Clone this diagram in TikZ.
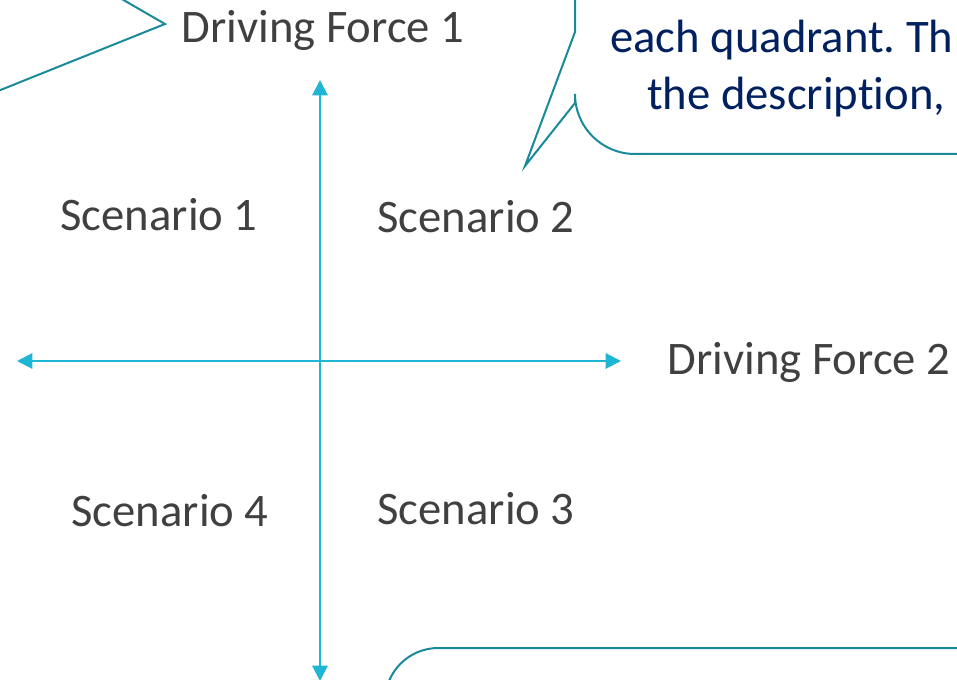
\documentclass[tikz,border=0pt]{standalone}
\usepackage{fontspec}
\setmainfont{Carlito}[Ligatures=NoCommon]
\usepackage{tikz}
\usetikzlibrary{positioning,arrows.meta}
\frenchspacing

\definecolor{axiscyan}{RGB}{31,182,213}
\definecolor{calloutteal}{RGB}{24,138,154}
\definecolor{labelgray}{RGB}{64,64,64}
\definecolor{notenavy}{RGB}{0,32,96}

\tikzset{
    axis/.style={draw=axiscyan, line width=1.5pt, -{Triangle[length=11.5pt,width=11.5pt]}},
    callout/.style={draw=calloutteal, line width=1.5pt, line join=miter},
    label/.style={text=labelgray, font=\fontsize{35}{42}\selectfont, inner sep=0pt},
    note/.style={text=notenavy, font=\fontsize{35}{42}\selectfont, inner sep=0pt, anchor=west}
}

\begin{document}
\begin{tikzpicture}[x=0.75pt, y=-0.75pt]
    \useasboundingbox (0,0) rectangle (957,680);
    \clip (0,0) rectangle (957,680);

    % Ejes
    \coordinate (centro) at (320,361);
    \coordinate (arriba) at (320,80);
    \coordinate (abajo) at (320,681);
    \coordinate (izq) at (17,361);
    \coordinate (der) at (621,361);
    \draw[axis] (centro) -- (arriba);
    \draw[axis] (centro) -- (abajo);
    \draw[axis] (centro) -- (izq);
    \draw[axis] (centro) -- (der);

    % Fuerzas
    \node[label] (fuerza1) at (323,30) {Driving Force 1};
    \node[label] (fuerza2) at (809,362) {Driving Force 2};

    % Escenarios
    \node[label] (esc1) at (159,215) {Scenario 1};
    \node[label] (esc2) at (476,217) {Scenario 2};
    \node[label] (esc3) at (476,509) {Scenario 3};
    \node[label] (esc4) at (170,511) {Scenario 4};

    % Globos
    \draw[callout] (120,-2) -- (165,24) -- (-2,91);
    \draw[callout] (575,-2) -- (575,32) -- (525,166) -- (575,103)
        [rounded corners=45] -- (575,154) -- (965,154);
    \draw[callout, rounded corners=40] (385,700) -- (385,648) -- (965,648);

    % Texto del globo
    \node[note] (linea1) at (610,40) {each quadrant. Th};
    \node[note] (linea2) at (647,97) {the description,};
\end{tikzpicture}
\end{document}
